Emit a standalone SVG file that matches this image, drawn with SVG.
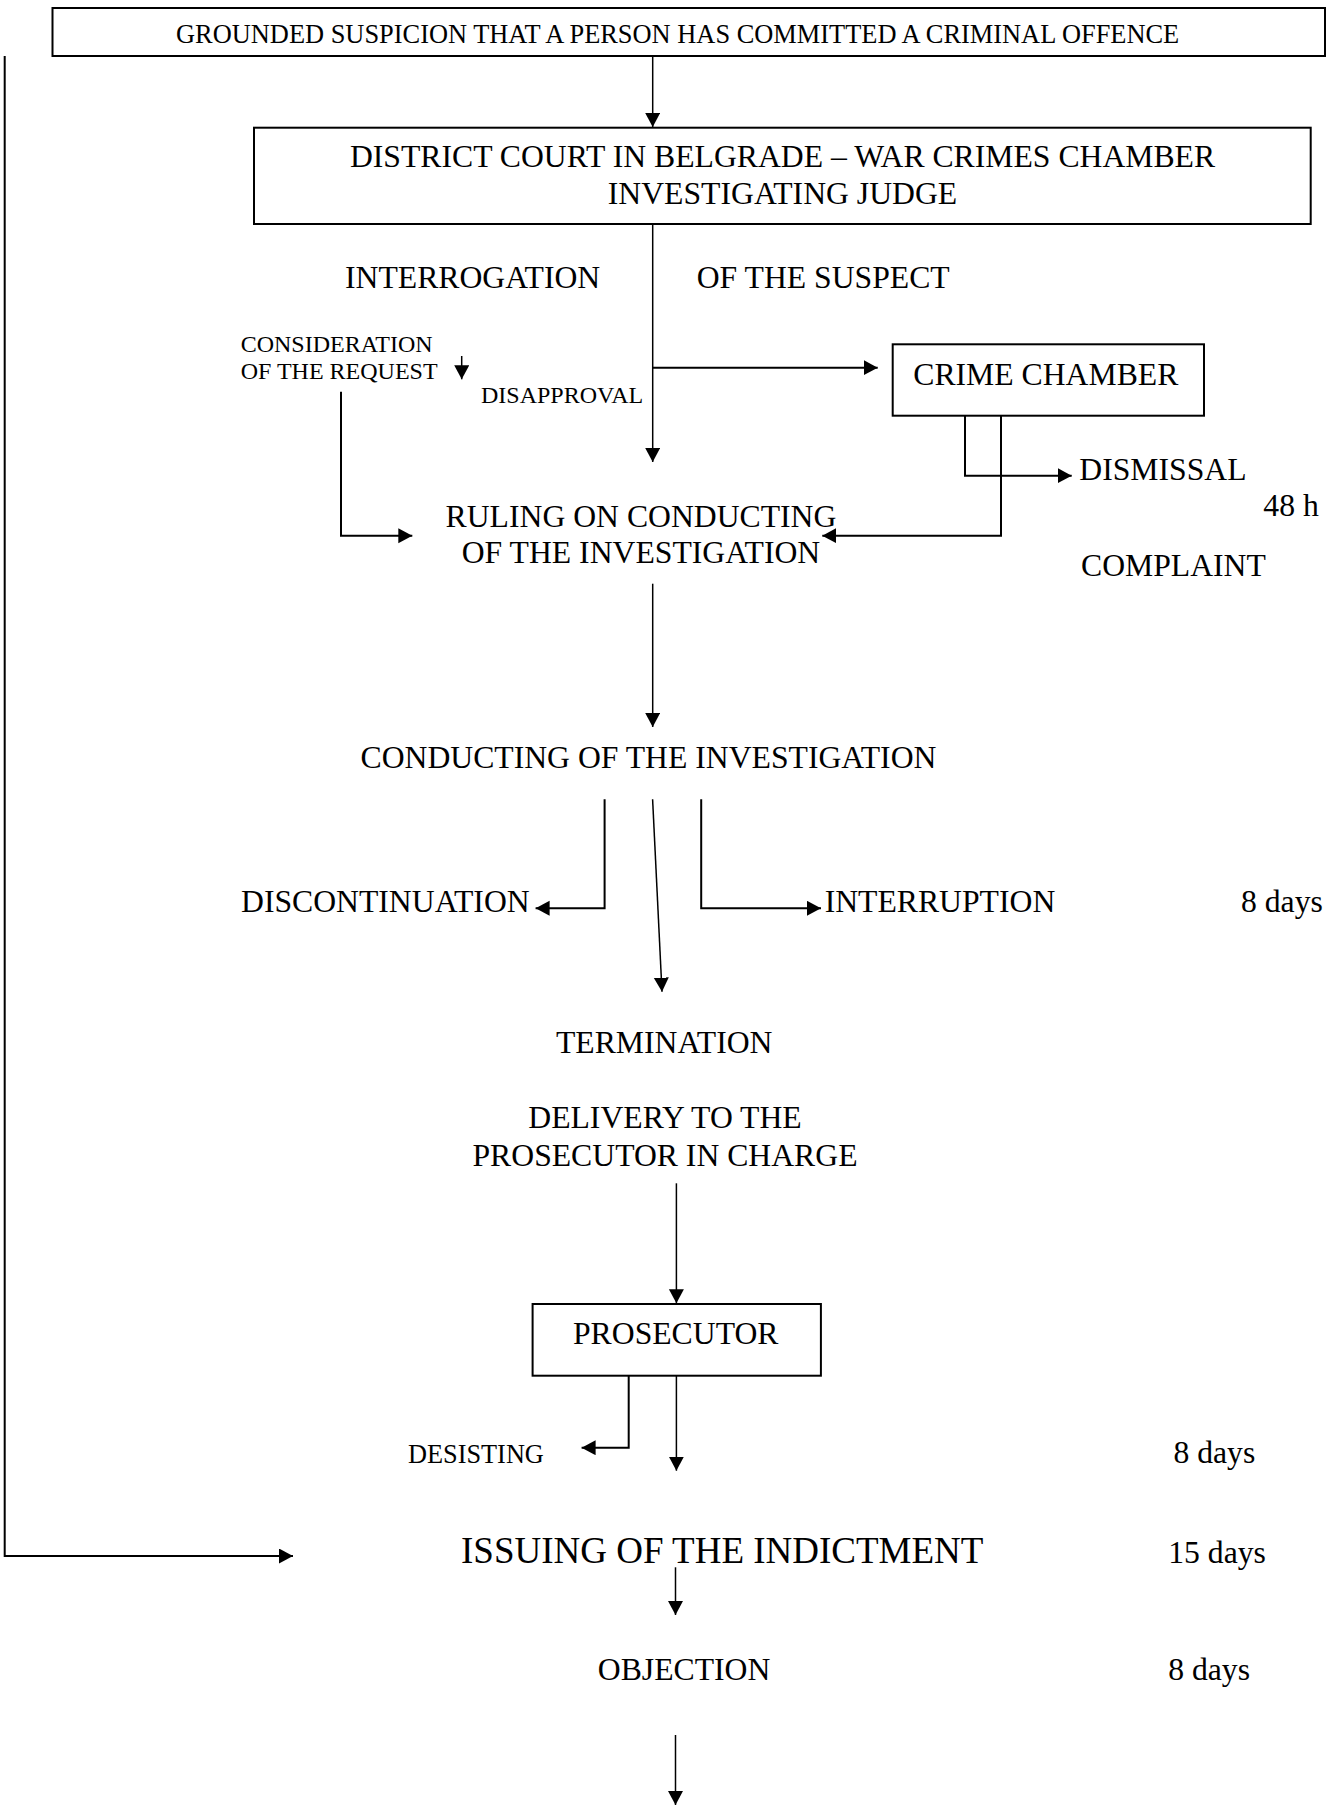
<svg xmlns="http://www.w3.org/2000/svg" width="1339" height="1806" viewBox="0 0 1339 1806">
<style>
  text { font-family: "Liberation Serif", "Times New Roman", serif; fill: #000; font-size: 31.7px; }
  .box { fill: #fff; stroke: #000; stroke-width: 2; }
  .c { fill: none; stroke: #000; stroke-width: 1.5; }
  .e { fill: none; stroke: #000; stroke-width: 2; }
  .s { font-size: 24px; }
  .m { text-anchor: middle; }
</style>
<defs>
  <marker id="ah" markerUnits="userSpaceOnUse" markerWidth="15" markerHeight="16" refX="14" refY="7.5" orient="auto">
    <path d="M0,0 L14,7.5 L0,15 z" fill="#000"/>
  </marker>
</defs>
<rect width="1339" height="1806" fill="#fff"/>

<g id="connectors">
  <path class="c" d="M652.7,56 V127" marker-end="url(#ah)"/>
  <path class="c" d="M652.7,224 V462" marker-end="url(#ah)"/>
  <path class="e" d="M652.7,367.7 H877.7" marker-end="url(#ah)"/>
  <path class="c" d="M461.7,356 V379.3" marker-end="url(#ah)"/>
  <path class="e" d="M341,391.7 V535.7 H412.3" marker-end="url(#ah)"/>
  <path class="e" d="M965,415.7 V475.7 H1071.7" marker-end="url(#ah)"/>
  <path class="e" d="M1001,415.7 V535.7 H822.3" marker-end="url(#ah)"/>
  <path class="c" d="M652.7,583.7 V727" marker-end="url(#ah)"/>
  <path class="e" d="M604.6,799.3 V908.3 H535.6" marker-end="url(#ah)"/>
  <path class="c" d="M652.6,799.3 L662,991.7" marker-end="url(#ah)"/>
  <path class="e" d="M701.2,799.3 V908.3 H821" marker-end="url(#ah)"/>
  <path class="c" d="M676.4,1183.3 V1303.3" marker-end="url(#ah)"/>
  <path class="e" d="M628.7,1375.7 V1447.7 H581.6" marker-end="url(#ah)"/>
  <path class="c" d="M676.4,1375.7 V1470.7" marker-end="url(#ah)"/>
  <path class="e" d="M4.7,56 V1556 H293" marker-end="url(#ah)"/>
  <path class="c" d="M675.5,1567.3 V1615" marker-end="url(#ah)"/>
  <path class="c" d="M675.5,1735 V1805" marker-end="url(#ah)"/>
</g>

<g id="n-suspicion">
  <rect class="box" x="52.5" y="8" width="1272.5" height="48"/>
  <text x="176" y="43" style="font-size:26.4px">GROUNDED SUSPICION THAT A PERSON HAS COMMITTED A CRIMINAL OFFENCE</text>
</g>
<g id="n-district">
  <rect class="box" x="254" y="127.7" width="1056.7" height="96.3"/>
  <text class="m" x="782.5" y="166.7">DISTRICT COURT IN BELGRADE – WAR CRIMES CHAMBER</text>
  <text class="m" x="782.5" y="204">INVESTIGATING JUDGE</text>
</g>
<g id="n-interrogation">
  <text x="345" y="288">INTERROGATION</text>
  <text x="696.7" y="288">OF THE SUSPECT</text>
</g>
<g id="n-consideration">
  <text class="s" x="240.7" y="351.7">CONSIDERATION</text>
  <text class="s" x="240.7" y="379.3">OF THE REQUEST</text>
</g>
<g id="n-disapproval">
  <text class="s" x="481" y="403.3">DISAPPROVAL</text>
</g>
<g id="n-crime-chamber">
  <rect class="box" x="892.7" y="344.3" width="311.3" height="71.4"/>
  <text x="913.3" y="385">CRIME CHAMBER</text>
</g>
<g id="n-dismissal">
  <text x="1079.3" y="480">DISMISSAL</text>
</g>
<g id="n-48h">
  <text x="1263.3" y="515.7">48 h</text>
</g>
<g id="n-ruling">
  <text class="m" x="641" y="526.7">RULING ON CONDUCTING</text>
  <text class="m" x="641" y="563.3">OF THE INVESTIGATION</text>
</g>
<g id="n-complaint">
  <text x="1081" y="575.7">COMPLAINT</text>
</g>
<g id="n-conducting">
  <text x="360.5" y="768.3">CONDUCTING OF THE INVESTIGATION</text>
</g>
<g id="n-discontinuation">
  <text x="241" y="911.7">DISCONTINUATION</text>
</g>
<g id="n-interruption">
  <text x="824.7" y="911.7">INTERRUPTION</text>
</g>
<g id="n-8days-1">
  <text x="1241" y="911.7">8 days</text>
</g>
<g id="n-termination">
  <text x="556" y="1053.3">TERMINATION</text>
</g>
<g id="n-delivery">
  <text class="m" x="665" y="1128.3">DELIVERY TO THE</text>
  <text class="m" x="665" y="1166">PROSECUTOR IN CHARGE</text>
</g>
<g id="n-prosecutor">
  <rect class="box" x="532.6" y="1304" width="288.3" height="71.7"/>
  <text x="573" y="1344">PROSECUTOR</text>
</g>
<g id="n-desisting">
  <text x="408" y="1463.3" style="font-size:26.3px">DESISTING</text>
</g>
<g id="n-8days-2">
  <text x="1173.4" y="1463.3">8 days</text>
</g>
<g id="n-indictment">
  <text x="461" y="1563.3" style="font-size:37px">ISSUING OF THE INDICTMENT</text>
</g>
<g id="n-15days">
  <text x="1168.2" y="1563.3">15 days</text>
</g>
<g id="n-objection">
  <text x="597.8" y="1680">OBJECTION</text>
</g>
<g id="n-8days-3">
  <text x="1168.2" y="1680">8 days</text>
</g>
</svg>
